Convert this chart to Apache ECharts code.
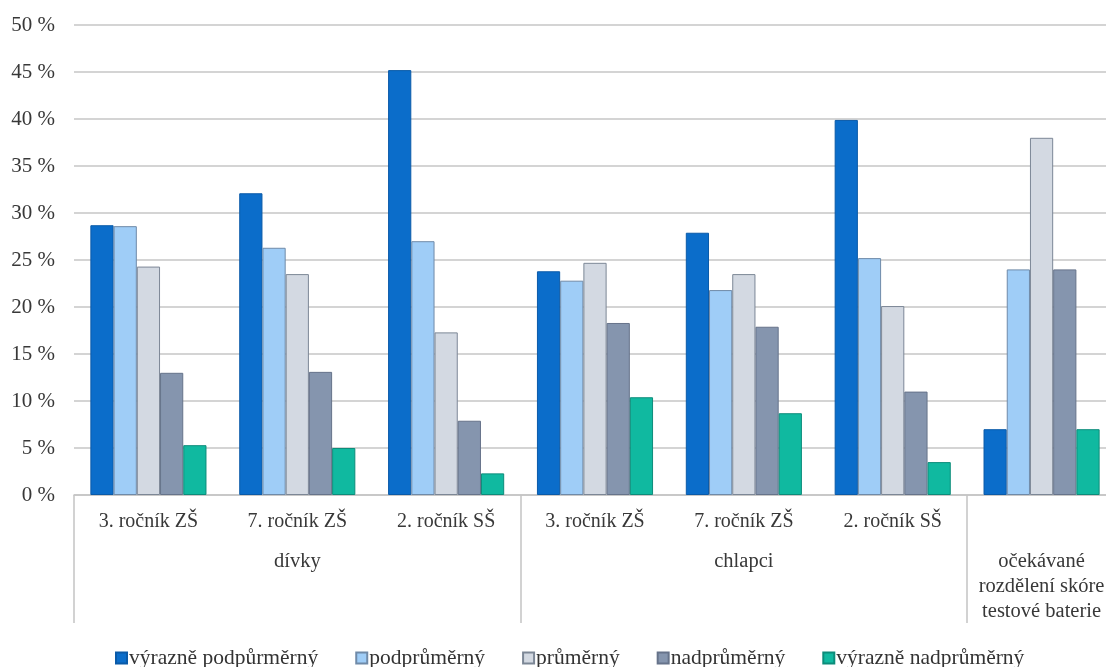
<!DOCTYPE html>
<html>
<head>
<meta charset="utf-8">
<title>Rozdělení skóre</title>
<script src="https://cdn.jsdelivr.net/npm/echarts@6/dist/echarts.min.js"></script>
<style>
  html, body { margin: 0; padding: 0; background: #ffffff; }
  #chart { width: 1106px; height: 667px; }
</style>
</head>
<body>
<div id="chart"></div>
<script>
// Categories (first level) and groups (second level)
const categories = ['3. ročník ZŠ', '7. ročník ZŠ', '2. ročník SŠ', '3. ročník ZŠ', '7. ročník ZŠ', '2. ročník SŠ', ''];
const groupLabels = ['', 'dívky', '', '', 'chlapci', '', 'očekávané\nrozdělení skóre\ntestové baterie'];
const groupStarts = [0, 3, 6];

// Series names
const seriesNames = ['výrazně podpůrměrný', 'podprůměrný', 'průměrný', 'nadprůměrný', 'výrazně nadprůměrný'];

// Values in percent, one array per series, in category order
const vyraznePodprumerny = [28.7, 32.1, 45.2, 23.8, 27.9, 39.9, 7];
const podprumerny        = [28.6, 26.3, 27.0, 22.8, 21.8, 25.2, 24];
const prumerny           = [24.3, 23.5, 17.3, 24.7, 23.5, 20.1, 38];
const nadprumerny        = [13.0, 13.1, 7.9, 18.3, 17.9, 11.0, 24];
const vyrazneNadprumerny = [5.3, 5.0, 2.3, 10.4, 8.7, 3.5, 7];

const yTicks = { min: 0, max: 50, interval: 5 };

const fills   = ['#0b6dca', '#9fcdf7', '#d3d9e2', '#8595ae', '#10b9a0'];
const borders = ['#0a5aa8', '#6f8aa8', '#7c8796', '#66738a', '#0c8c7a'];

const seriesValues = [vyraznePodprumerny, podprumerny, prumerny, nadprumerny, vyrazneNadprumerny];

const serif = '"Liberation Serif", "DejaVu Serif", serif';

const chart = echarts.init(document.getElementById('chart'), null, { renderer: 'canvas' });

chart.setOption({
  animation: false,
  backgroundColor: '#ffffff',
  // the plot runs a little past the right edge of the canvas
  grid: { left: 74, top: 25, width: 1042, height: 470, containLabel: false, outerBoundsMode: 'none' },
  legend: {
    data: seriesNames,
    left: 110,
    top: 642,
    icon: 'rect',
    itemWidth: 11,
    itemHeight: 11,
    itemGap: 37,
    textStyle: { fontFamily: serif, fontSize: 21.5, color: '#333333', padding: [0, 0, 0, -3] }
  },
  xAxis: [
    {
      type: 'category',
      data: categories,
      position: 'bottom',
      axisLine: { show: true, lineStyle: { color: '#c4c4c4', width: 1.5 } },
      axisTick: { show: false },
      axisLabel: {
        interval: 0, margin: 17, fontFamily: serif, fontSize: 20, lineHeight: 20, color: '#383838'
      }
    },
    {
      type: 'category',
      data: groupLabels,
      position: 'bottom',
      gridIndex: 0,
      axisLine: { show: false },
      axisTick: {
        show: true,
        length: 128,
        interval: function (index) { return groupStarts.indexOf(index) !== -1; },
        lineStyle: { color: '#c4c4c4', width: 1.5 }
      },
      axisLabel: {
        interval: 0, margin: 54, fontFamily: serif, fontSize: 20.5, color: '#383838',
        lineHeight: 25, align: 'center'
      }
    }
  ],
  yAxis: {
    type: 'value',
    min: yTicks.min,
    max: yTicks.max,
    interval: yTicks.interval,
    axisLine: { show: false },
    axisTick: { show: false },
    splitLine: { lineStyle: { color: '#c6c6c6', width: 1.5 } },
    axisLabel: {
      margin: 19,
      fontFamily: serif,
      fontSize: 21,
      color: '#383838',
      formatter: '{value} %'
    }
  },
  series: seriesNames.map((name, i) => ({
    name: name,
    type: 'bar',
    xAxisIndex: 0,
    data: seriesValues[i],
    barGap: '0%',
    barCategoryGap: '22%',
    itemStyle: { color: fills[i], borderColor: borders[i], borderWidth: 1 }
  }))
});
</script>
</body>
</html>
